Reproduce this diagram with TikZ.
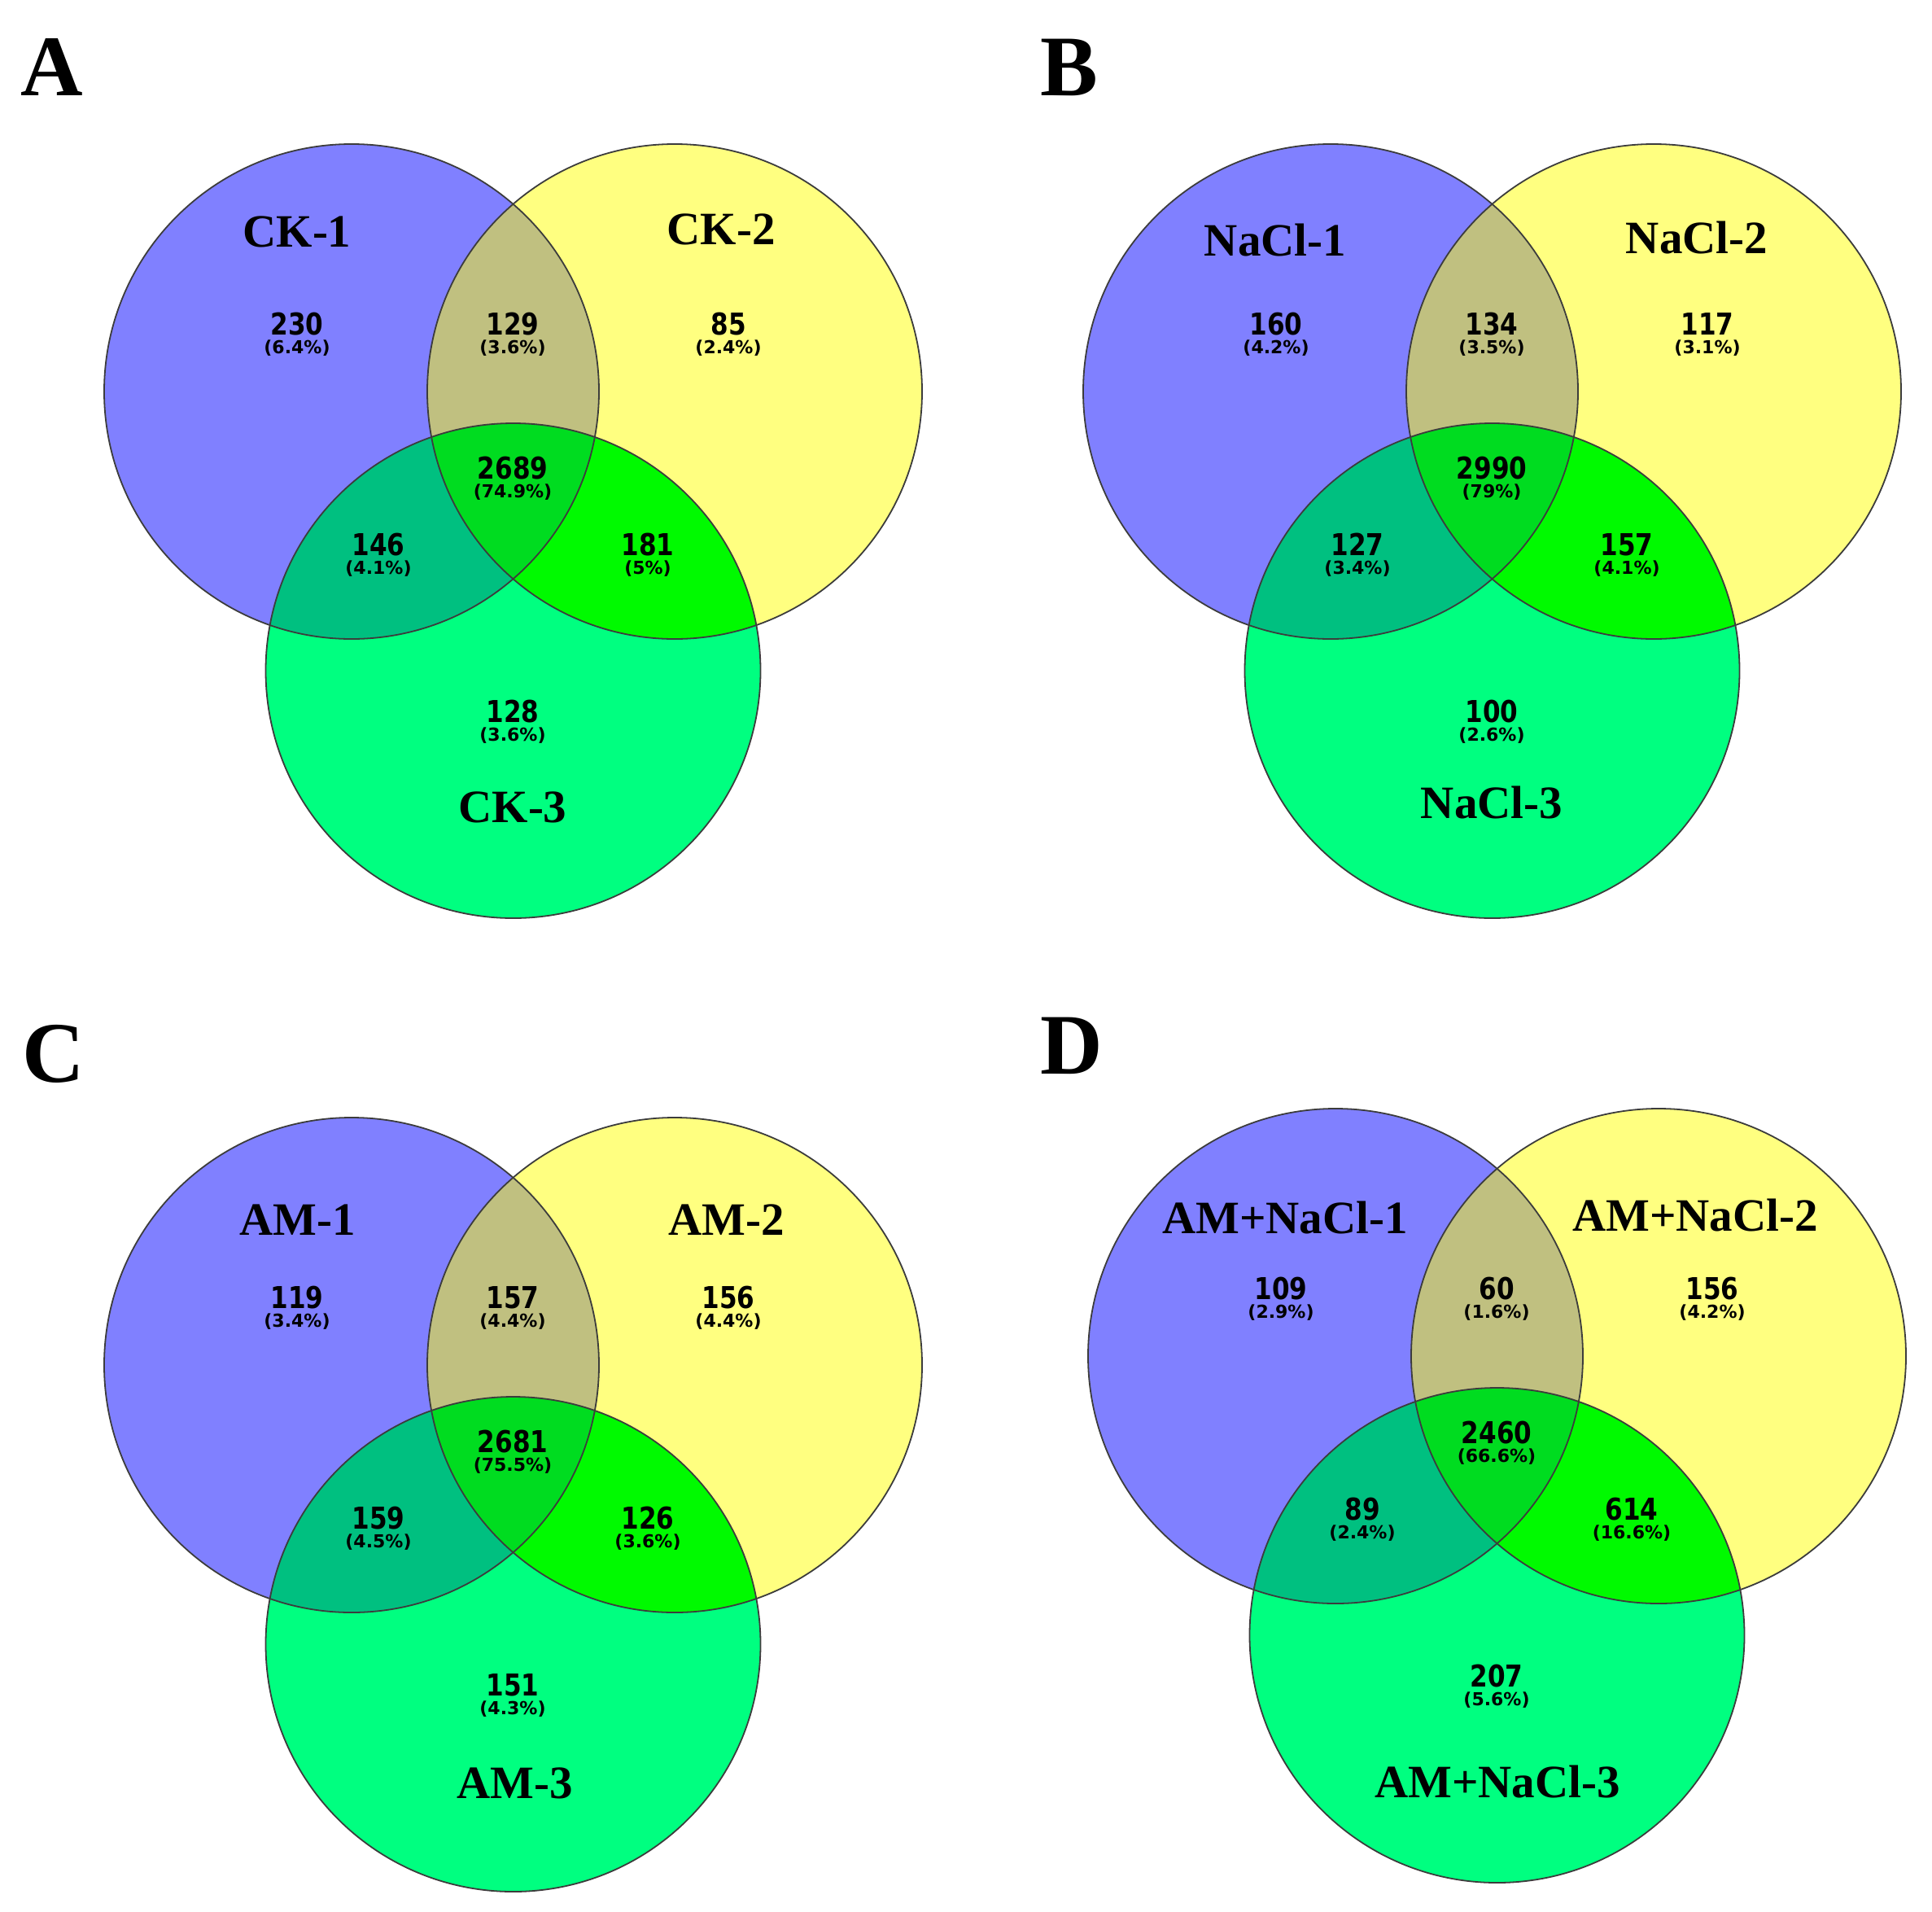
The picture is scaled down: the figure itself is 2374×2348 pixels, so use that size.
\documentclass[tikz,border=0pt]{standalone}
\usepackage{fontspec}
\setmainfont{Liberation Serif}
\newfontfamily\numfont[FakeStretch=0.84]{DejaVu Sans}
\newfontfamily\pctfont{DejaVu Sans}
\definecolor{cblue}{HTML}{8080FF}
\definecolor{cyellow}{HTML}{FFFF80}
\definecolor{cgreen}{HTML}{00FF80}
\definecolor{ctan}{HTML}{C0C080}
\definecolor{cteal}{HTML}{00C080}
\definecolor{clime}{HTML}{00FA00}
\definecolor{ccenter}{HTML}{00DC20}
\definecolor{cedge}{HTML}{3C3C3C}
\tikzset{
  rr/.style={radius=304pt},
  outline/.style={draw=cedge, line width=1.8pt},
  paneltxt/.style={inner sep=0pt, font=\fontsize{106}{110}\selectfont\bfseries},
  settxt/.style={inner sep=0pt, font=\fontsize{57}{60}\selectfont\bfseries},
  numtxt/.style={inner sep=0pt, font=\numfont\fontsize{37}{40}\selectfont\bfseries},
  pcttxt/.style={inner sep=0pt, font=\pctfont\fontsize{22}{24}\selectfont\bfseries},
}
\newcommand\venncircles{%
  \coordinate (c1) at (432,481);
  \coordinate (c2) at (829,481);
  \coordinate (c3) at (630.5,824);
  \fill[cblue] (c1) circle[rr];
  \fill[cyellow] (c2) circle[rr];
  \fill[cgreen] (c3) circle[rr];
  \begin{scope}
    \clip (c2) circle[rr];
    \fill[clime] (c3) circle[rr];
  \end{scope}
  \begin{scope}
    \clip (c1) circle[rr];
    \fill[ctan] (c2) circle[rr];
    \fill[cteal] (c3) circle[rr];
    \clip (c2) circle[rr];
    \fill[ccenter] (c3) circle[rr];
  \end{scope}
  \draw[outline] (c1) circle[rr];
  \draw[outline] (c2) circle[rr];
  \draw[outline] (c3) circle[rr];
}
% #1 name, #2 x, #3 y, #4 number, #5 percent
\newcommand\vnum[5]{%
  \node[numtxt] (#1) at (#2,#3) {#4};
  \node[pcttxt] (#1p) at (#2,#3+30) {(#5\%)};
}
\begin{document}
\begin{tikzpicture}[x=1pt,y=-1pt]
\useasboundingbox (0,0) rectangle (2374,2348);
% ---------- A ----------
\begin{scope}
  \venncircles
  \node[paneltxt] (pA) at (64,83) {A};
  \node[settxt] (lA1) at (365,285) {CK-1};
  \node[settxt] (lA2) at (886,282) {CK-2};
  \node[settxt] (lA3) at (630,992) {CK-3};
  \vnum{nA1}{365}{398}{230}{6.4}
  \vnum{nA2}{630}{398}{129}{3.6}
  \vnum{nA3}{895}{398}{85}{2.4}
  \vnum{nA4}{630}{575}{2689}{74.9}
  \vnum{nA5}{465}{669}{146}{4.1}
  \vnum{nA6}{796}{669}{181}{5}
  \vnum{nA7}{630}{874}{128}{3.6}
\end{scope}
% ---------- B ----------
\begin{scope}[shift={(1203,0)}]
  \venncircles
  \node[paneltxt] (pB) at (111,83) {B};
  \node[settxt] (lB1) at (364,295) {NaCl-1};
  \node[settxt] (lB2) at (882,292) {NaCl-2};
  \node[settxt] (lB3) at (630,986) {NaCl-3};
  \vnum{nB1}{365}{398}{160}{4.2}
  \vnum{nB2}{630}{398}{134}{3.5}
  \vnum{nB3}{895}{398}{117}{3.1}
  \vnum{nB4}{630}{575}{2990}{79}
  \vnum{nB5}{465}{669}{127}{3.4}
  \vnum{nB6}{796}{669}{157}{4.1}
  \vnum{nB7}{630}{874}{100}{2.6}
\end{scope}
% ---------- C ----------
\begin{scope}[shift={(0,1196)}]
  \venncircles
  \node[paneltxt] (pC) at (66,99) {C};
  \node[settxt] (lC1) at (366,303) {AM-1};
  \node[settxt] (lC2) at (893,303) {AM-2};
  \node[settxt] (lC3) at (633,995) {AM-3};
  \vnum{nC1}{365}{398}{119}{3.4}
  \vnum{nC2}{630}{398}{157}{4.4}
  \vnum{nC3}{895}{398}{156}{4.4}
  \vnum{nC4}{630}{575}{2681}{75.5}
  \vnum{nC5}{465}{669}{159}{4.5}
  \vnum{nC6}{796}{669}{126}{3.6}
  \vnum{nC7}{630}{874}{151}{4.3}
\end{scope}
% ---------- D ----------
\begin{scope}[shift={(1209,1185)}]
  \venncircles
  \node[paneltxt] (pD) at (108,100) {D};
  \node[settxt] (lD1) at (370,311) {AM+NaCl-1};
  \node[settxt] (lD2) at (874,308) {AM+NaCl-2};
  \node[settxt] (lD3) at (631,1004) {AM+NaCl-3};
  \vnum{nD1}{365}{398}{109}{2.9}
  \vnum{nD2}{630}{398}{60}{1.6}
  \vnum{nD3}{895}{398}{156}{4.2}
  \vnum{nD4}{630}{575}{2460}{66.6}
  \vnum{nD5}{465}{669}{89}{2.4}
  \vnum{nD6}{796}{669}{614}{16.6}
  \vnum{nD7}{630}{874}{207}{5.6}
\end{scope}
\end{tikzpicture}
\end{document}
